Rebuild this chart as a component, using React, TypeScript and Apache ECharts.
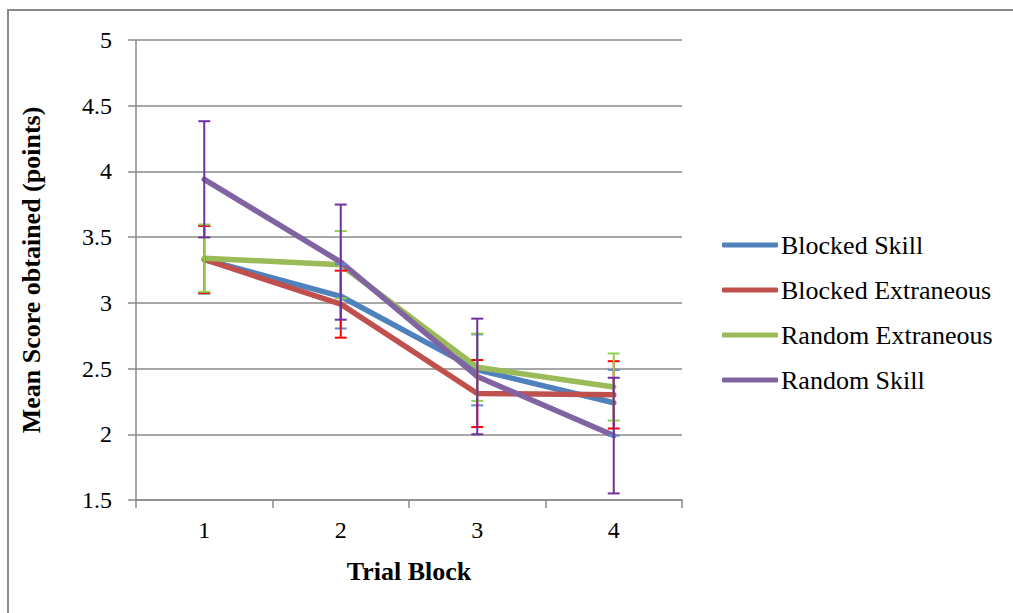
import React, { useEffect, useRef } from "react";
import * as echarts from "echarts";

const categories = ["1", "2", "3", "4"];
const seriesNames = ["Blocked Skill", "Blocked Extraneous", "Random Extraneous", "Random Skill"];
const blockedSkill = [3.33, 3.05, 2.49, 2.24];
const blockedSkillErr = [0.26, 0.245, 0.27, 0.25];
const blockedExtraneous = [3.33, 2.99, 2.31, 2.30];
const blockedExtraneousErr = [0.255, 0.255, 0.255, 0.256];
const randomExtraneous = [3.34, 3.29, 2.51, 2.36];
const randomExtraneousErr = [0.256, 0.256, 0.256, 0.255];
const randomSkill = [3.94, 3.31, 2.44, 1.99];
const randomSkillErr = [0.442, 0.438, 0.44, 0.44];
const yTicks = { min: 1.5, max: 5, interval: 0.5 };

const lineColors = ["#4F81BD", "#C0504D", "#9BBB59", "#8064A2"];
const errColors = ["#5B8FD0", "#FF0000", "#92D050", "#7030A0"];

const FONT = "Liberation Serif";
const GRAY = "#8a8a8a";

export default function App() {
  const ref = useRef<HTMLDivElement>(null);
  useEffect(() => {
    if (!ref.current) return;
    const chart = echarts.init(ref.current, null, { renderer: "svg" });
    const values = [blockedSkill, blockedExtraneous, randomExtraneous, randomSkill];
    const errs = [blockedSkillErr, blockedExtraneousErr, randomExtraneousErr, randomSkillErr];

    const lineSeries = values.map((v, i) => ({
      name: seriesNames[i],
      type: "line",
      data: v,
      symbol: "none",
      z: 2,
      color: lineColors[i],
      lineStyle: { width: 5.5, color: lineColors[i], cap: "round", join: "round" },
    }));

    const errSeries = values.map((v, i) => ({
      name: seriesNames[i] + " error",
      type: "custom",
      z: 3 + i,
      data: v.map((val, k) => [k, val - errs[i][k], val + errs[i][k]]),
      encode: { x: 0, y: [1, 2] },
      renderItem: (params: any, api: any) => {
        const x = api.value(0);
        const lo = api.coord([x, api.value(1)]);
        const hi = api.coord([x, api.value(2)]);
        const hw = 6;
        const style = { stroke: errColors[i], lineWidth: 2, fill: "none" };
        return {
          type: "group",
          children: [
            { type: "line", shape: { x1: lo[0], y1: lo[1], x2: hi[0], y2: hi[1] }, style },
            { type: "line", shape: { x1: lo[0] - hw, y1: lo[1], x2: lo[0] + hw, y2: lo[1] }, style },
            { type: "line", shape: { x1: hi[0] - hw, y1: hi[1], x2: hi[0] + hw, y2: hi[1] }, style },
          ],
        };
      },
    }));

    chart.setOption({
      animation: false,
      backgroundColor: "#ffffff",
      textStyle: { fontFamily: FONT, color: "#000" },
      graphic: [
        {
          type: "rect",
          shape: { x: 8, y: 10, width: 1010, height: 700 },
          style: { fill: "none", stroke: GRAY, lineWidth: 2 },
          silent: true,
        },
      ],
      grid: { left: 136, top: 40, width: 546, height: 460 },
      legend: {
        orient: "vertical",
        left: 722,
        top: 232,
        padding: 0,
        itemWidth: 56,
        itemHeight: 5,
        itemGap: 19,
        icon: "roundRect",
        data: seriesNames,
        textStyle: { fontFamily: FONT, fontSize: 26, color: "#000", lineHeight: 26, padding: [0, 0, 0, -2] },
      },
      xAxis: {
        type: "category",
        data: categories,
        boundaryGap: true,
        name: "Trial Block",
        nameLocation: "middle",
        nameGap: 58,
        nameTextStyle: { fontFamily: FONT, fontSize: 26, fontWeight: "bold", color: "#000" },
        axisLine: { lineStyle: { color: GRAY, width: 1.5 } },
        axisTick: { show: true, length: 8, alignWithLabel: false, lineStyle: { color: GRAY, width: 1.5 } },
        axisLabel: { fontFamily: FONT, fontSize: 24, color: "#000", margin: 18 },
        splitLine: { show: false },
      },
      yAxis: {
        type: "value",
        min: yTicks.min,
        max: yTicks.max,
        interval: yTicks.interval,
        name: "Mean Score obtained (points)",
        nameLocation: "middle",
        nameGap: 92,
        nameTextStyle: { fontFamily: FONT, fontSize: 26, fontWeight: "bold", color: "#000" },
        axisLine: { show: true, lineStyle: { color: GRAY, width: 1.5 } },
        axisTick: { show: true, length: 8, lineStyle: { color: GRAY, width: 1.5 } },
        axisLabel: { fontFamily: FONT, fontSize: 24, color: "#000", margin: 24 },
        splitLine: { show: true, lineStyle: { color: GRAY, width: 1.5 } },
      },
      series: [...lineSeries, ...errSeries],
    });
    return () => chart.dispose();
  }, []);
  return (
    <div
      ref={ref}
      style={{ position: "fixed", left: 0, top: 0, width: 1013, height: 613 }}
    />
  );
}
